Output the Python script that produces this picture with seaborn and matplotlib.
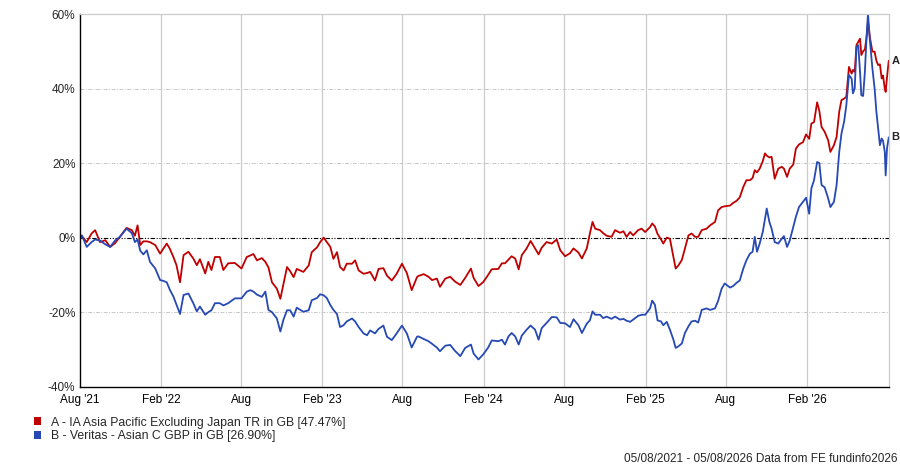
import pandas as pd
import numpy as np
import matplotlib
matplotlib.use("Agg")
import matplotlib.pyplot as plt
from matplotlib.patches import Patch
import seaborn as sns

# Values: days since 05/08/2021 and cumulative % return
start_date = "2021-08-05"
days = [0, 1, 12, 23, 31, 42, 54, 65, 76, 87, 102, 114, 121, 127, 133, 140, 148, 155, 167, 178,
        185, 193, 200, 208, 215, 223, 231, 242, 253, 261, 268, 280, 287, 294, 302, 313, 321, 332, 347, 362, 374,
        382, 389, 397, 408, 416, 423, 431, 442, 450, 457, 465, 472, 480, 487, 502, 514, 521, 533, 540, 548,
        555, 563, 570, 578, 585, 593, 600, 612, 619, 627, 638, 646, 653, 664, 672, 683, 691, 702, 713, 725,
        736, 747, 759,
        762, 774, 785, 793, 804, 811, 823, 834, 845, 857, 868, 881, 887, 898, 909, 920, 928, 943, 951, 958,
        966, 973, 981, 989, 996, 1007, 1016, 1026, 1034, 1041, 1052, 1064, 1075, 1083, 1094, 1105, 1113, 1124, 1132,
        1143, 1150, 1156, 1162, 1173, 1180, 1188, 1199, 1207, 1218, 1226, 1233, 1241, 1248, 1259, 1267, 1275,
        1286, 1291, 1297, 1303, 1311, 1316, 1324, 1331, 1339, 1344, 1350, 1358, 1365, 1373, 1380, 1388, 1395,
        1403, 1414, 1422, 1433, 1440, 1448, 1455, 1467, 1474, 1482, 1489,
        1497, 1504, 1512, 1518, 1523, 1528, 1534, 1541, 1546, 1550, 1556, 1561, 1568, 1576, 1584, 1589, 1596,
        1602, 1610, 1616, 1623, 1632, 1639, 1646, 1651, 1657, 1664, 1669, 1674, 1681, 1689, 1694, 1702, 1708,
        1714, 1719, 1725, 1730, 1736, 1742, 1745, 1749, 1753, 1757, 1761, 1764, 1768, 1772, 1776, 1779, 1783,
        1789, 1794, 1798, 1802, 1806, 1810, 1813, 1817, 1819, 1822, 1826]

sector_a = [0, 0.4, -1.2, 1.1, 2.0, -1.2, -0.7, -2.5, -1.5, 0.2, 2.6, 2.0, 0.5, 3.3, -2.0, -1.0, -1.0, -1.2,
            -2.0, -4.3, -3.0, -1.6, -3.0, -5.2, -7.4, -12.0, -4.7, -3.8, -5.6, -7.4, -5.8, -9.6, -6.5, -8.7,
            -5.2, -5.2, -8.7, -6.9, -6.8, -8.3, -5.2,
            -4.8, -4.4, -6.1, -5.5, -6.5, -8.0, -12.0, -13.7, -16.4, -12.4, -7.9, -9.0, -10.6, -8.4, -9.2, -7.5,
            -3.9, -2.6, -1.2, 0.0, -1.2, -2.5, -5.7, -3.9, -7.9, -8.8, -7.0, -7.0, -6.1, -8.8, -9.7, -9.5, -9.2,
            -11.5, -8.4, -8.2, -10.2, -11.5, -9.7, -7.0, -9.5, -14.1, -10.6,
            -10.3, -9.8, -10.5, -11.4, -11.0, -13.2, -11.0, -10.5, -11.8, -12.7, -10.8, -8.3, -10.8, -13.0,
            -11.9, -10.0, -8.5, -8.4, -6.9, -6.9, -5.9, -5.0, -5.6, -8.5, -4.7, -2.9, -0.9, -2.9, -4.5, -2.7,
            -1.2, -1.6, -0.5, -3.4, -5.0, -4.2, -2.9, -4.0, -5.6,
            -2.9, 1.1, 4.2, 2.4, 2.0, 1.2, 0.5, 0.2, 2.0, 1.3, 1.7, 0.2, 1.5, 0.6, 2.0, 2.4, 1.5, 2.8, 3.8, 3.0,
            1.0, -0.5, -1.6, 0.0, -0.3, -5.2, -8.3, -7.5, -6.0, -2.9, 0.6, 1.1, 0.2, 0.2, 2.0, 2.4, 3.3, 4.2,
            7.3, 8.2, 8.4, 8.6, 9.3, 9.9, 10.8,
            13.6, 15.4, 15.4, 16.0, 18.1, 17.5, 18.5, 20.5, 22.6, 22.0, 21.5, 21.7, 15.8, 18.5, 19.0, 18.5, 16.3,
            18.5, 19.6, 23.9, 25.0, 25.6, 27.7, 26.5, 30.6, 31.0, 36.3, 34.0, 29.7, 28.4, 26.1, 23.0, 24.8, 27.0,
            33.8, 36.9, 37.3, 37.8, 45.8, 44.0, 45.0, 44.5, 51.7, 52.5, 53.4, 49.0, 50.0, 50.5, 53.9, 57.9, 54.0,
            49.9, 49.9, 47.5, 46.3, 46.5, 42.7, 43.5, 40.0, 39.1, 43.0, 47.47]

fund_b = [0, 0.6, -2.5, -1.2, -0.5, -0.8, -1.8, -2.5, -0.8, 0.2, 2.4, 1.2, -1.2, -0.5, -3.5, -4.5, -3.4, -6.5,
          -8.3, -11.4, -11.6, -12.0, -14.0, -15.8, -18.0, -20.5, -15.4, -15.0, -17.6, -19.8, -18.5, -20.7, -20.0,
          -19.5, -17.6, -17.6, -18.2, -17.6, -16.3, -16.3, -14.5,
          -14.1, -14.5, -15.3, -15.9, -14.5, -19.4, -20.0, -21.7, -25.2, -22.0, -19.5, -19.5, -21.2, -18.8,
          -19.9, -19.5, -16.8, -16.2, -15.2, -15.5, -16.2, -18.1, -19.4, -20.5, -24.0, -23.5, -22.5, -21.7,
          -22.5, -24.0, -25.7, -26.2, -24.9, -25.7, -24.5, -23.6, -26.6, -27.5, -25.7, -23.6, -25.7, -29.5, -26.6,
          -26.5, -27.2, -27.8, -28.5, -29.5, -30.5, -29.0, -28.8, -30.4, -31.8, -29.6, -28.7, -31.1, -32.7,
          -31.3, -29.5, -27.6, -27.8, -27.4, -28.7, -26.5, -25.6, -26.5, -28.7, -26.3, -24.7, -23.6, -24.7,
          -27.4, -24.3, -22.9, -21.3, -21.4, -22.9, -23.0, -24.0, -21.9, -23.5, -25.6,
          -23.1, -22.2, -19.8, -20.7, -20.7, -21.6, -21.2, -21.8, -21.2, -22.0, -21.8, -22.3, -22.6, -22.0,
          -21.0, -20.7, -20.7, -19.0, -16.9, -18.0, -22.2, -22.5, -23.5, -22.6, -24.7, -27.4, -29.6, -29.2,
          -28.4, -25.6, -23.8, -22.5, -22.3, -22.8, -19.4, -19.0, -19.4, -19.0, -17.0, -13.7, -12.3, -13.4,
          -13.0, -12.1, -11.5,
          -8.3, -6.1, -4.3, -3.8, 0.2, -3.8, -1.6, 1.5, 5.1, 7.8, 4.2, 2.4, -1.2, -1.6, -0.3, 0.4, -2.5, -0.8,
          2.9, 5.6, 8.2, 9.6, 10.7, 6.4, 13.2, 15.4, 20.3, 20.0, 14.1, 13.5, 10.5, 8.2, 9.6, 14.1, 23.0, 27.9,
          31.1, 35.5, 43.6, 42.7, 38.7, 40.0, 51.2, 51.6, 44.5, 38.2, 38.0, 44.5, 54.3, 60.2, 53.4, 45.4, 40.0,
          33.8, 29.3, 24.8, 26.6, 26.0, 23.0, 16.7, 23.9, 26.90]

series_names = ["A - IA Asia Pacific Excluding Japan TR in GB [47.47%]",
                "B - Veritas - Asian C GBP in GB [26.90%]"]
series_tags = ["A", "B"]
tick_dates = ["2021-08-01", "2022-02-01", "2022-08-01", "2023-02-01", "2023-08-01", "2024-02-01",
              "2024-08-01", "2025-02-01", "2025-08-01", "2026-02-01", "2026-08-01"]
tick_labels = ["Aug '21", "Feb '22", "Aug", "Feb '23", "Aug", "Feb '24", "Aug", "Feb '25", "Aug", "Feb '26", ""]
y_ticks = [-40, -20, 0, 20, 40, 60]

red = "#c00000"
blue = "#2649b3"

dates = pd.to_datetime(start_date) + pd.to_timedelta(days, unit="D")
df = pd.DataFrame({
    "date": np.concatenate([dates, dates]),
    "value": sector_a + fund_b,
    "series": [series_tags[0]] * len(days) + [series_tags[1]] * len(days),
})

sns.set_style("white")
plt.rcParams["font.family"] = ["Liberation Sans", "DejaVu Sans"]

fig = plt.figure(figsize=(9, 4.67), dpi=100)
ax = fig.add_axes([0.0885, 0.172, 0.8995, 0.798])

sns.lineplot(data=df, x="date", y="value", hue="series", palette=[red, blue],
             linewidth=1.3, legend=False, ax=ax, estimator=None, sort=False)

ax.set_xlim(pd.Timestamp("2021-08-01"), pd.Timestamp("2026-08-06"))
ax.set_ylim(-40, 60)
ax.set_xticks(pd.to_datetime(tick_dates))
ax.set_xticklabels(tick_labels, fontsize=8.5)
ax.set_yticks(y_ticks)
ax.set_yticklabels([f"{v}%" for v in y_ticks], fontsize=8.5)
ax.set_xlabel("")
ax.set_ylabel("")

# grid lines
for d in pd.to_datetime(tick_dates)[1:-1]:
    ax.axvline(d, color="#cccccc", linewidth=0.9, zorder=0)
for v in [-20, 20, 40]:
    ax.axhline(v, color="#c8c8c8", linewidth=0.7, linestyle=(0, (4, 1.5, 1, 1.5)), zorder=0)
ax.axhline(0, color="black", linewidth=0.8, linestyle=(0, (4, 1.5, 1, 1.5, 1, 1.5)), zorder=1)

for side in ["top", "right"]:
    ax.spines[side].set_color("#cccccc")
    ax.spines[side].set_linewidth(0.9)
for side in ["left", "bottom"]:
    ax.spines[side].set_color("black")
    ax.spines[side].set_linewidth(1.0)
ax.tick_params(axis="x", direction="out", length=4, width=0.8, colors="black", pad=1)
ax.tick_params(axis="y", length=0, pad=3)

# end tags
ax.annotate(series_tags[0], xy=(dates[-1], sector_a[-1]), xytext=(2, 0), textcoords="offset points",
            va="center", ha="left", fontsize=8, fontweight="bold", annotation_clip=False)
ax.annotate(series_tags[1], xy=(dates[-1], fund_b[-1]), xytext=(2, 0), textcoords="offset points",
            va="center", ha="left", fontsize=8, fontweight="bold", annotation_clip=False)

handles = [Patch(facecolor=red, edgecolor="none"), Patch(facecolor=blue, edgecolor="none")]
fig.legend(handles, series_names, loc="upper left", bbox_to_anchor=(0.0378, 0.108), frameon=False,
           fontsize=8.8, handlelength=0.55, handleheight=0.6, handletextpad=0.8, labelspacing=0.12,
           borderaxespad=0, borderpad=0)

fig.text(0.997, 0.004, "05/08/2021 - 05/08/2026 Data from FE fundinfo2026", ha="right", va="bottom",
         fontsize=8.5)

plt.savefig("out.png", dpi=100)
